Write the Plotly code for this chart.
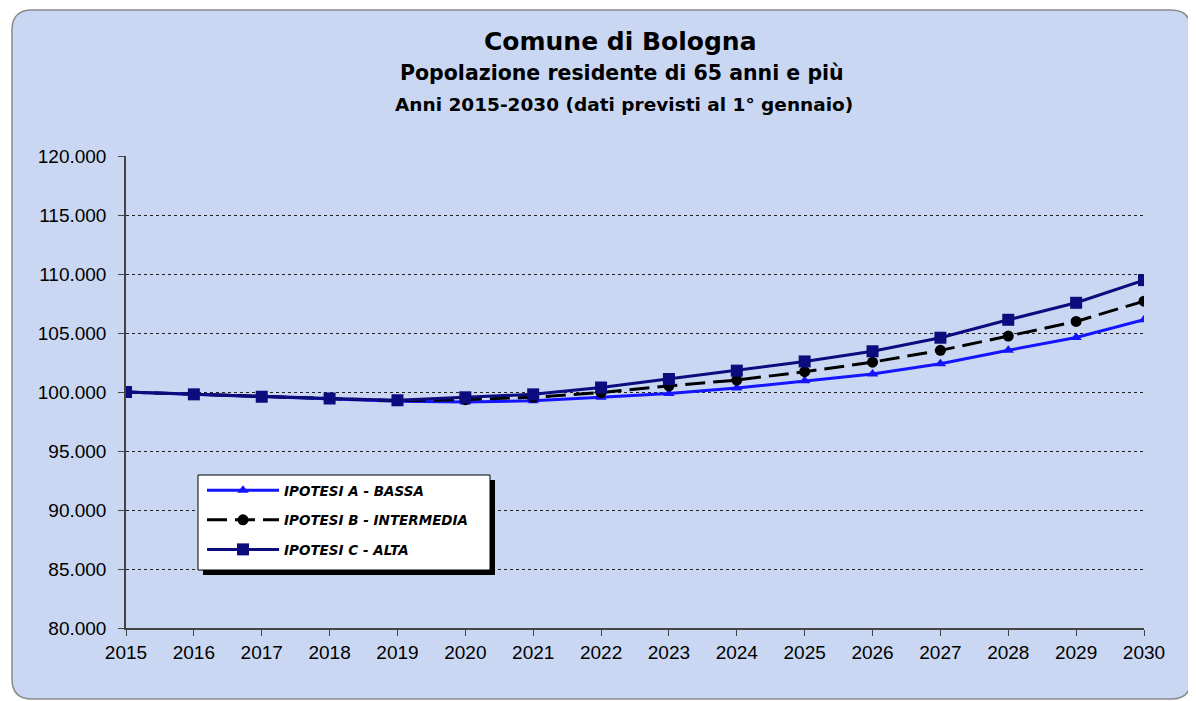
import plotly.graph_objects as go

years = list(range(2015, 2031))
ipotesi_a = [100000, 99800, 99600, 99420, 99220, 99150, 99250, 99550, 99880, 100330, 100960, 101530, 102390, 103540, 104620, 106120]
ipotesi_b = [100000, 99800, 99600, 99430, 99260, 99350, 99550, 99950, 100520, 101010, 101720, 102530, 103530, 104740, 105980, 107700]
ipotesi_c = [100000, 99800, 99600, 99450, 99300, 99550, 99800, 100380, 101100, 101810, 102590, 103450, 104600, 106120, 107560, 109480]
series_names = ["IPOTESI A - BASSA", "IPOTESI B - INTERMEDIA", "IPOTESI C - ALTA"]
y_ticks = list(range(80000, 120001, 5000))

# page has an 8px body margin; figure sized so page is 1196x701
OFF = 8
W, H = 1196 - OFF, 701 - OFF
# plot area in page pixels
PL, PR, PT, PB = 126, 1144, 156, 628


def fx(px):
    return (px - PL) / (PR - PL)


def fy(py):
    return (PB - py) / (PB - PT)


fig = go.Figure()
fig.add_trace(go.Scatter(
    x=years, y=ipotesi_a, name=series_names[0], mode="lines+markers",
    line=dict(color="#1414ff", width=3),
    marker=dict(symbol="triangle-up", size=10, color="#1414ff"),
    legendgroup="a"))
fig.add_trace(go.Scatter(
    x=years, y=ipotesi_b, name=series_names[1], mode="lines+markers",
    line=dict(color="#000000", width=3, dash="20px,8px"),
    marker=dict(symbol="circle", size=11, color="#000000"),
    legendgroup="b"))
fig.add_trace(go.Scatter(
    x=years, y=ipotesi_c, name=series_names[2], mode="lines+markers",
    line=dict(color="#0c0c7e", width=3),
    marker=dict(symbol="square", size=12, color="#0c0c7e"),
    legendgroup="c"))

# rounded chart background
x0, x1 = fx(12), fx(1191)
y0, y1 = fy(10), fy(699)
rx = 20 / (PR - PL)
ry = 20 / (PB - PT)
path = (f"M {x0+rx},{y0} L {x1-rx},{y0} Q {x1},{y0} {x1},{y0-ry} "
        f"L {x1},{y1+ry} Q {x1},{y1} {x1-rx},{y1} "
        f"L {x0+rx},{y1} Q {x0},{y1} {x0},{y1+ry} "
        f"L {x0},{y0-ry} Q {x0},{y0} {x0+rx},{y0} Z")
shapes = [
    dict(type="path", xref="paper", yref="paper", path=path,
         fillcolor="#cad7f2", line=dict(color="#8a8a8a", width=1.5), layer="below"),
    # legend shadow
    dict(type="rect", xref="paper", yref="paper",
         x0=fx(203), x1=fx(495), y0=fy(480), y1=fy(575),
         fillcolor="#000000", line=dict(width=0), layer="above"),
    # legend box
    dict(type="rect", xref="paper", yref="paper",
         x0=fx(198), x1=fx(490), y0=fy(475), y1=fy(570),
         fillcolor="#ffffff", line=dict(color="#000000", width=1), layer="above"),
]

title_font = dict(family="DejaVu Sans", color="#000000", weight="bold")
annotations = [
    dict(text="Comune di Bologna", x=fx(620), y=fy(42), xref="paper", yref="paper",
         showarrow=False, xanchor="center", yanchor="middle",
         font=dict(title_font, size=25)),
    dict(text="Popolazione residente di 65 anni e più", x=fx(622), y=fy(73), xref="paper", yref="paper",
         showarrow=False, xanchor="center", yanchor="middle",
         font=dict(title_font, size=20.5)),
    dict(text="Anni 2015-2030 (dati previsti al 1° gennaio)", x=fx(624), y=fy(104), xref="paper", yref="paper",
         showarrow=False, xanchor="center", yanchor="middle",
         font=dict(title_font, size=18.5)),
]

fig.update_layout(
    width=W, height=H,
    margin=dict(l=PL - OFF, r=W - (PR - OFF), t=PT - OFF, b=H - (PB - OFF), pad=0),
    paper_bgcolor="#ffffff",
    plot_bgcolor="rgba(0,0,0,0)",
    separators=",.",
    shapes=shapes,
    annotations=annotations,
    showlegend=True,
    legend=dict(
        x=fx(202), y=fy(475), xanchor="left", yanchor="top",
        bgcolor="rgba(0,0,0,0)", borderwidth=0,
        font=dict(family="DejaVu Sans", size=13.5, color="#000000", weight="bold", style="italic"),
        itemwidth=72, traceorder="grouped", tracegroupgap=9,
    ),
    xaxis=dict(
        range=[2015, 2030], tickmode="array", tickvals=years,
        ticktext=[str(y) for y in years],
        showline=True, linecolor="#444444", linewidth=1.5,
        ticks="outside", ticklen=6, tickcolor="#444444",
        showgrid=False, zeroline=False,
        tickfont=dict(family="Liberation Sans", size=19, color="#000000"),
    ),
    yaxis=dict(
        range=[80000, 120000], tickmode="array", tickvals=y_ticks,
        tickformat=",d",
        showline=True, linecolor="#444444", linewidth=1.5,
        ticks="outside", ticklen=6, tickcolor="#444444",
        ticklabelstandoff=8,
        showgrid=True, gridcolor="#222222", gridwidth=1, griddash="dot",
        zeroline=False,
        tickfont=dict(family="Liberation Sans", size=19, color="#000000"),
    ),
)

fig.write_html("out.html")
